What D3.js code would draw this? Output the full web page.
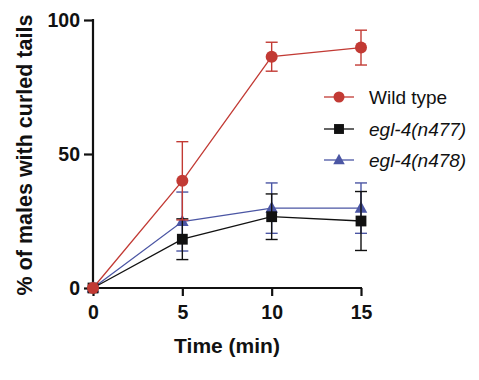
<!DOCTYPE html>
<html>
<head>
<meta charset="utf-8">
<script src="https://cdn.jsdelivr.net/npm/d3@7"></script>
<style>
  body { margin: 0; background: #fff; }
  text { font-family: "Liberation Sans", Arial, sans-serif; }
</style>
</head>
<body>
<svg id="chart" width="479" height="380"></svg>
<script>
var times = [0, 5, 10, 15];
var xTicks = [0, 5, 10, 15];
var yTicks = [0, 50, 100];

var seriesNames = ["Wild type", "egl-4(n477)", "egl-4(n478)"];
var seriesColors = ["#c23a34", "#111111", "#4b56a4"];
var seriesShapes = ["circle", "square", "triangle"];

var wildTypeMean = [0, 40, 86.3, 89.7];
var wildTypeErr = [0, 14.6, 5.4, 6.5];
var n477Mean = [0, 18.2, 26.6, 25];
var n477Err = [0, 7.6, 8.5, 11];
var n478Mean = [0, 24.8, 29.8, 29.8];
var n478Err = [0, 11, 9.4, 9.4];

var means = [wildTypeMean, n477Mean, n478Mean];
var errs = [wildTypeErr, n477Err, n478Err];

var svg = d3.select("#chart");

var x = d3.scaleLinear().domain([0, 15]).range([93, 361]);
var y = d3.scaleLinear().domain([0, 100]).range([288, 20]);

// axes
var xAxis = svg.append("g")
    .attr("transform", "translate(0,288)")
    .call(d3.axisBottom(x).tickValues(xTicks).tickSize(8).tickPadding(9).tickSizeOuter(0));
var yAxis = svg.append("g")
    .attr("transform", "translate(93,0)")
    .call(d3.axisLeft(y).tickValues(yTicks).tickSize(9).tickPadding(4).tickSizeOuter(0));

[xAxis, yAxis].forEach(function (a) {
    a.select(".domain").attr("stroke", "#111").attr("stroke-width", 2.2);
    a.selectAll(".tick line").attr("stroke", "#111").attr("stroke-width", 2.2);
    a.selectAll(".tick text")
        .attr("fill", "#111")
        .style("font-size", "19.5px")
        .style("font-weight", "bold");
});
// extend x axis domain to meet y axis
xAxis.select(".domain").attr("d", "M" + (93 - 1.1) + ",0H" + (x(15) + 1));
yAxis.select(".domain").attr("d", "M0," + (y(0) + 1.1) + "V" + (y(100) - 1));

svg.append("text")
    .attr("x", x(7.5))
    .attr("y", 353)
    .attr("text-anchor", "middle")
    .style("font-size", "21px")
    .style("font-weight", "bold")
    .attr("fill", "#111")
    .text("Time (min)");

svg.append("text")
    .attr("transform", "translate(32," + 155 + ") rotate(-90)")
    .attr("text-anchor", "middle")
    .style("font-size", "21.5px")
    .style("font-weight", "bold")
    .attr("fill", "#111")
    .text("% of males with curled tails");

function drawMarker(g, shape, cx, cy, color, s) {
    if (shape === "circle") {
        g.append("circle").attr("cx", cx).attr("cy", cy).attr("r", s * 0.5).attr("fill", color);
    } else if (shape === "square") {
        g.append("rect").attr("x", cx - s * 0.45).attr("y", cy - s * 0.45)
            .attr("width", s * 0.9).attr("height", s * 0.9).attr("fill", color);
    } else {
        var h = s * 0.95;
        g.append("path")
            .attr("d", "M" + cx + "," + (cy - h * 0.6) + "L" + (cx + h * 0.55) + "," + (cy + h * 0.4) +
                "L" + (cx - h * 0.55) + "," + (cy + h * 0.4) + "Z")
            .attr("fill", color);
    }
}

var line = d3.line().x(function (d) { return x(d[0]); }).y(function (d) { return y(d[1]); });

// draw in reverse so wild type ends up on top
for (var i = means.length - 1; i >= 0; i--) {
    var g = svg.append("g");
    var col = seriesColors[i];
    var pts = times.map(function (t, j) { return [t, means[i][j]]; });
    // error bars
    times.forEach(function (t, j) {
        var e = errs[i][j];
        if (e <= 0) return;
        var px = x(t), top = y(means[i][j] + e), bot = y(means[i][j] - e);
        g.append("line").attr("x1", px).attr("x2", px).attr("y1", top).attr("y2", bot)
            .attr("stroke", col).attr("stroke-width", 1.4);
        [top, bot].forEach(function (yy) {
            g.append("line").attr("x1", px - 6).attr("x2", px + 6).attr("y1", yy).attr("y2", yy)
                .attr("stroke", col).attr("stroke-width", 1.4);
        });
    });
    g.append("path").datum(pts).attr("d", line)
        .attr("fill", "none").attr("stroke", col).attr("stroke-width", 1.3);
    pts.forEach(function (p) {
        drawMarker(g, seriesShapes[i], x(p[0]), y(p[1]), col, 12);
    });
}

// legend
var legendY = [97, 129, 160];
seriesNames.forEach(function (name, i) {
    var g = svg.append("g");
    var col = seriesColors[i];
    g.append("line").attr("x1", 324).attr("x2", 354).attr("y1", legendY[i]).attr("y2", legendY[i])
        .attr("stroke", col).attr("stroke-width", 1.3);
    drawMarker(g, seriesShapes[i], 339, legendY[i], col, 11);
    g.append("text")
        .attr("x", 369)
        .attr("y", legendY[i] + 6.5)
        .style("font-size", "19px")
        .style("font-style", i === 0 ? "normal" : "italic")
        .attr("fill", "#111")
        .text(name);
});
</script>
</body>
</html>
